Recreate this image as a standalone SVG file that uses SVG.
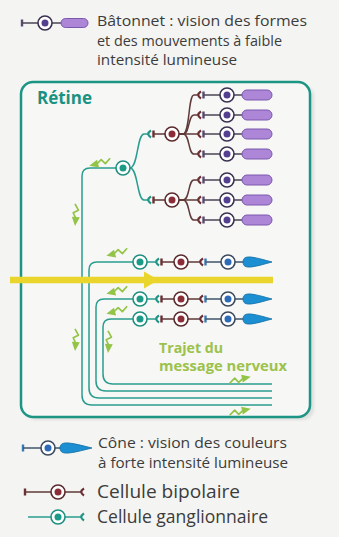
<svg xmlns="http://www.w3.org/2000/svg" xmlns:xlink="http://www.w3.org/1999/xlink" width="339" height="537" viewBox="0 0 339 537">
  <style>
    .lbl { font-family: "Open Sans", "Noto Sans", sans-serif; fill: #3c3c3c; }
    .title { font-family: "Open Sans", "Noto Sans", sans-serif; font-weight: 700; fill: #1a9282; }
    .msg { font-family: "Open Sans", "Noto Sans", sans-serif; font-weight: 700; fill: #9cc24c; }
    .gl { fill: none; stroke: #2a9d8e; stroke-width: 1.5; }
    .bl { fill: none; stroke: #5f3a38; stroke-width: 1.5; }
    .pl { fill: none; stroke: #4c4456; stroke-width: 1.5; }
    .cl { fill: none; stroke: #41556b; stroke-width: 1.5; }
    .cupG { fill: none; stroke: #1f9585; stroke-width: 2.2; }
    .cupB { fill: none; stroke: #6b2e33; stroke-width: 2.2; }
    .barB { stroke: #6b2e33; stroke-width: 2.4; }
    .barR { stroke: #5a4a72; stroke-width: 2.4; }
    .barC { stroke: #3a79b3; stroke-width: 2.4; }
    .ringG { fill: #ffffff; stroke: #1f8f80; stroke-width: 1.6; }
    .ringB { fill: #ffffff; stroke: #5a2a2c; stroke-width: 1.6; }
    .ringR { fill: #ffffff; stroke: #3b3150; stroke-width: 1.6; }
    .ringC { fill: #ffffff; stroke: #3c4a5c; stroke-width: 1.6; }
    .dotG { fill: #1b9a87; }
    .dotB { fill: #8a2d36; }
    .dotR { fill: #55408f; }
    .dotC { fill: #2e6ab5; }
    .rod { fill: #ad86d8; stroke: #7a58ad; stroke-width: 1; }
    .cone { fill: #1b8fd2; stroke: #136fa6; stroke-width: 0.8; }
    .sig path { fill: none; stroke: #93c447; stroke-width: 1.7; stroke-linejoin: round; }
    .sig polygon { fill: #93c447; }
  </style>
  <defs>
    <!-- signal direction mark, drawn pointing right around the origin -->
    <g id="sig" class="sig">
      <path d="M-11,2 L-5,-2 L-2,3 L4,-0.5"/>
      <polygon points="2,-4 11,0 2,4"/>
    </g>
    <!-- cone photoreceptor outer segment, drawn from x=0 to x=29 -->
    <path id="coneBody" class="cone" d="M0,0 C0,-4 2.5,-5.5 8,-5 C15,-4.2 22,-1.8 29,0 C22,1.8 15,4.2 8,5 C2.5,5.5 0,4 0,0 Z"/>
    <rect id="rodBody" class="rod" x="0" y="-5" width="30" height="10" rx="5"/>
    <filter id="soft" x="-10%" y="-10%" width="120%" height="120%">
      <feGaussianBlur stdDeviation="1.6"/>
    </filter>
  </defs>

  <rect x="0" y="0" width="339" height="537" fill="#f4f4f2"/>

  <!-- retina frame -->
  <g id="retina">
    <rect x="25" y="85" width="289" height="335" rx="12" fill="#cfcfcd" opacity="0.6" filter="url(#soft)"/>
    <rect x="21" y="82" width="289" height="335" rx="12" fill="#f7f7f6" stroke="#1d9585" stroke-width="2.5"/>
    <text class="title" x="37" y="104" font-size="17.5" textLength="55" lengthAdjust="spacingAndGlyphs">Rétine</text>
  </g>

  <!-- neurites -->
  <g id="connectors">
    <!-- ganglion G0 dendrites to the two rod bipolars -->
    <path class="gl" d="M130,168 C138,168 137,134 144,134 L148,134"/>
    <path class="gl" d="M130,168 C138,168 137,200 144,200 L148,200"/>
    <path class="cupG" d="M151,130.5 Q145.5,134 151,137.5"/>
    <path class="cupG" d="M151,196.5 Q145.5,200 151,203.5"/>
    <line class="barB" x1="153.5" y1="130.5" x2="153.5" y2="137.5"/>
    <line class="barB" x1="153.5" y1="196.5" x2="153.5" y2="203.5"/>
    <path class="bl" d="M153.5,134 L165,134 M153.5,200 L165,200"/>

    <!-- bipolar B1 dendrites to four rods -->
    <path class="bl" d="M179,134 L183,134 C190,134 188,95 194,95 L198,95"/>
    <path class="bl" d="M179,134 L183,134 C190,134 188,115 194,115 L198,115"/>
    <path class="bl" d="M179,134 L198,134"/>
    <path class="bl" d="M179,134 L183,134 C190,134 188,154 194,154 L198,154"/>
    <!-- bipolar B2 dendrites to three rods -->
    <path class="bl" d="M179,200 L183,200 C190,200 188,180 194,180 L198,180"/>
    <path class="bl" d="M179,200 L198,200"/>
    <path class="bl" d="M179,200 L183,200 C190,200 188,220 194,220 L198,220"/>
    <g>
      <path class="cupB" d="M201,91.5 Q195.5,95 201,98.5"/>
      <path class="cupB" d="M201,111.5 Q195.5,115 201,118.5"/>
      <path class="cupB" d="M201,130.5 Q195.5,134 201,137.5"/>
      <path class="cupB" d="M201,150.5 Q195.5,154 201,157.5"/>
      <path class="cupB" d="M201,176.5 Q195.5,180 201,183.5"/>
      <path class="cupB" d="M201,196.5 Q195.5,200 201,203.5"/>
      <path class="cupB" d="M201,216.5 Q195.5,220 201,223.5"/>
      <path class="barR" d="M203.5,91.5 V98.5 M203.5,111.5 V118.5 M203.5,130.5 V137.5 M203.5,150.5 V157.5 M203.5,176.5 V183.5 M203.5,196.5 V203.5 M203.5,216.5 V223.5"/>
      <path class="pl" d="M203.5,95 H220 M203.5,115 H220 M203.5,134 H220 M203.5,154 H220 M203.5,180 H220 M203.5,200 H220 M203.5,220 H220"/>
      <path class="pl" d="M234,95 H243 M234,115 H243 M234,134 H243 M234,154 H243 M234,180 H243 M234,200 H243 M234,220 H243"/>
    </g>

    <!-- cone pathways: ganglion - bipolar - cone -->
    <g>
      <path class="gl" d="M147,262 H156 M147,299 H156 M147,319 H156"/>
      <path class="cupG" d="M159,258.5 Q153.5,262 159,265.5"/>
      <path class="cupG" d="M159,295.5 Q153.5,299 159,302.5"/>
      <path class="cupG" d="M159,315.5 Q153.5,319 159,322.5"/>
      <path class="barB" d="M161.5,258.5 V265.5 M161.5,295.5 V302.5 M161.5,315.5 V322.5"/>
      <path class="bl" d="M161.5,262 H174 M161.5,299 H174 M161.5,319 H174"/>
      <path class="bl" d="M188,262 H200 M188,299 H200 M188,319 H200"/>
      <path class="cupB" d="M203,258.5 Q197.5,262 203,265.5"/>
      <path class="cupB" d="M203,295.5 Q197.5,299 203,302.5"/>
      <path class="cupB" d="M203,315.5 Q197.5,319 203,322.5"/>
      <path class="barC" d="M205.5,258.5 V265.5 M205.5,295.5 V302.5 M205.5,315.5 V322.5"/>
      <path class="cl" d="M205.5,262 H221 M205.5,299 H221 M205.5,319 H221"/>
      <path class="cl" d="M235,262 H244 M235,299 H244 M235,319 H244"/>
    </g>

    <!-- ganglion axons forming the optic fibres -->
    <path class="gl" d="M116,168 L90,168 Q82,168 82,176 L82,395 Q82,405 92,405 L272,405"/>
    <path class="gl" d="M133,262 L97,262 Q89,262 89,270 L89,388 Q89,398 99,398 L272,398"/>
    <path class="gl" d="M133,299 L104,299 Q96,299 96,307 L96,381 Q96,391 106,391 L272,391"/>
    <path class="gl" d="M133,319 L111,319 Q103,319 103,327 L103,374 Q103,384 113,384 L272,384"/>

    <!-- signal direction marks -->
    <use xlink:href="#sig" transform="translate(100,163) rotate(165)"/>
    <use xlink:href="#sig" transform="translate(117,253) rotate(165)"/>
    <use xlink:href="#sig" transform="translate(117,291) rotate(165)"/>
    <use xlink:href="#sig" transform="translate(117,311) rotate(165)"/>
    <use xlink:href="#sig" transform="translate(76,215) rotate(95)"/>
    <use xlink:href="#sig" transform="translate(76,340) rotate(95)"/>
    <use xlink:href="#sig" transform="translate(109,342) rotate(95)"/>
    <use xlink:href="#sig" transform="translate(240,379) rotate(-12)"/>
    <use xlink:href="#sig" transform="translate(240,411) rotate(-12)"/>
  </g>

  <!-- cells -->
  <g id="ganglion-g0"><circle class="ringG" cx="123" cy="168" r="7"/><circle class="dotG" cx="123" cy="168" r="3.5"/></g>
  <g id="bipolar-b1"><circle class="ringB" cx="172" cy="134" r="7"/><circle class="dotB" cx="172" cy="134" r="3.5"/></g>
  <g id="bipolar-b2"><circle class="ringB" cx="172" cy="200" r="7"/><circle class="dotB" cx="172" cy="200" r="3.5"/></g>

  <g id="rod-1"><circle class="ringR" cx="227" cy="95" r="7"/><circle class="dotR" cx="227" cy="95" r="3.5"/><use xlink:href="#rodBody" x="242" y="95"/></g>
  <g id="rod-2"><circle class="ringR" cx="227" cy="115" r="7"/><circle class="dotR" cx="227" cy="115" r="3.5"/><use xlink:href="#rodBody" x="242" y="115"/></g>
  <g id="rod-3"><circle class="ringR" cx="227" cy="134" r="7"/><circle class="dotR" cx="227" cy="134" r="3.5"/><use xlink:href="#rodBody" x="242" y="134"/></g>
  <g id="rod-4"><circle class="ringR" cx="227" cy="154" r="7"/><circle class="dotR" cx="227" cy="154" r="3.5"/><use xlink:href="#rodBody" x="242" y="154"/></g>
  <g id="rod-5"><circle class="ringR" cx="227" cy="180" r="7"/><circle class="dotR" cx="227" cy="180" r="3.5"/><use xlink:href="#rodBody" x="242" y="180"/></g>
  <g id="rod-6"><circle class="ringR" cx="227" cy="200" r="7"/><circle class="dotR" cx="227" cy="200" r="3.5"/><use xlink:href="#rodBody" x="242" y="200"/></g>
  <g id="rod-7"><circle class="ringR" cx="227" cy="220" r="7"/><circle class="dotR" cx="227" cy="220" r="3.5"/><use xlink:href="#rodBody" x="242" y="220"/></g>

  <g id="ganglion-g1"><circle class="ringG" cx="140" cy="262" r="7"/><circle class="dotG" cx="140" cy="262" r="3.5"/></g>
  <g id="ganglion-g2"><circle class="ringG" cx="140" cy="299" r="7"/><circle class="dotG" cx="140" cy="299" r="3.5"/></g>
  <g id="ganglion-g3"><circle class="ringG" cx="140" cy="319" r="7"/><circle class="dotG" cx="140" cy="319" r="3.5"/></g>
  <g id="bipolar-b3"><circle class="ringB" cx="181" cy="262" r="7"/><circle class="dotB" cx="181" cy="262" r="3.5"/></g>
  <g id="bipolar-b4"><circle class="ringB" cx="181" cy="299" r="7"/><circle class="dotB" cx="181" cy="299" r="3.5"/></g>
  <g id="bipolar-b5"><circle class="ringB" cx="181" cy="319" r="7"/><circle class="dotB" cx="181" cy="319" r="3.5"/></g>
  <g id="cone-1"><circle class="ringC" cx="228" cy="262" r="7"/><circle class="dotC" cx="228" cy="262" r="3.5"/><use xlink:href="#coneBody" x="243" y="262"/></g>
  <g id="cone-2"><circle class="ringC" cx="228" cy="299" r="7"/><circle class="dotC" cx="228" cy="299" r="3.5"/><use xlink:href="#coneBody" x="243" y="299"/></g>
  <g id="cone-3"><circle class="ringC" cx="228" cy="319" r="7"/><circle class="dotC" cx="228" cy="319" r="3.5"/><use xlink:href="#coneBody" x="243" y="319"/></g>

  <!-- incoming light -->
  <g id="light">
    <line x1="10" y1="280" x2="273" y2="280" stroke="#e9d52b" stroke-width="6.5"/>
    <polygon points="144,271.5 158.5,280 144,288.5" fill="#e9d52b"/>
  </g>

  <g id="message-label">
    <text class="msg" x="159" y="353" font-size="14" textLength="64" lengthAdjust="spacingAndGlyphs">Trajet du</text>
    <text class="msg" x="159" y="371" font-size="14" textLength="128" lengthAdjust="spacingAndGlyphs">message nerveux</text>
  </g>

  <!-- legend: rod -->
  <g id="legend-rod">
    <line class="barR" x1="22" y1="19.5" x2="22" y2="26.5"/>
    <path class="pl" d="M22,23 H38 M52,23 H62"/>
    <circle class="ringR" cx="45" cy="23" r="7"/><circle class="dotR" cx="45" cy="23" r="3.5"/>
    <rect class="rod" x="61" y="18.5" width="27" height="9" rx="4.5"/>
    <text class="lbl" x="97" y="26" font-size="14" textLength="210" lengthAdjust="spacingAndGlyphs">Bâtonnet : vision des formes</text>
    <text class="lbl" x="97" y="45.5" font-size="14" textLength="185" lengthAdjust="spacingAndGlyphs">et des mouvements à faible</text>
    <text class="lbl" x="97" y="65" font-size="14" textLength="140" lengthAdjust="spacingAndGlyphs">intensité lumineuse</text>
  </g>

  <!-- legend: cone -->
  <g id="legend-cone">
    <line class="barC" x1="23" y1="444.5" x2="23" y2="451.5"/>
    <path class="cl" d="M23,448 H41 M55,448 H61"/>
    <circle class="ringC" cx="48" cy="448" r="7"/><circle class="dotC" cx="48" cy="448" r="3.5"/>
    <use xlink:href="#coneBody" x="60" y="448" transform="translate(60,448) scale(1.1,1) translate(-60,-448)"/>
    <text class="lbl" x="98" y="448" font-size="14.5" textLength="189" lengthAdjust="spacingAndGlyphs">Cône : vision des couleurs</text>
    <text class="lbl" x="98" y="468" font-size="14.5" textLength="190" lengthAdjust="spacingAndGlyphs">à forte intensité lumineuse</text>
  </g>

  <!-- legend: bipolar cell -->
  <g id="legend-bipolar">
    <line class="barB" x1="25" y1="488.5" x2="25" y2="495.5"/>
    <path class="bl" d="M25,492 H51 M65,492 H81"/>
    <path class="cupB" d="M84,488.5 Q78.5,492 84,495.5"/>
    <circle class="ringB" cx="58" cy="492" r="7"/><circle class="dotB" cx="58" cy="492" r="3.5"/>
    <text class="lbl" x="97" y="498" font-size="17.5" textLength="143" lengthAdjust="spacingAndGlyphs">Cellule bipolaire</text>
  </g>

  <!-- legend: ganglion cell -->
  <g id="legend-ganglion">
    <path class="gl" d="M28,517 H51 M65,517 H81"/>
    <path class="cupG" d="M84,513.5 Q78.5,517 84,520.5"/>
    <circle class="ringG" cx="58" cy="517" r="7"/><circle class="dotG" cx="58" cy="517" r="3.5"/>
    <text class="lbl" x="97" y="523" font-size="17.5" textLength="171" lengthAdjust="spacingAndGlyphs">Cellule ganglionnaire</text>
  </g>
</svg>
